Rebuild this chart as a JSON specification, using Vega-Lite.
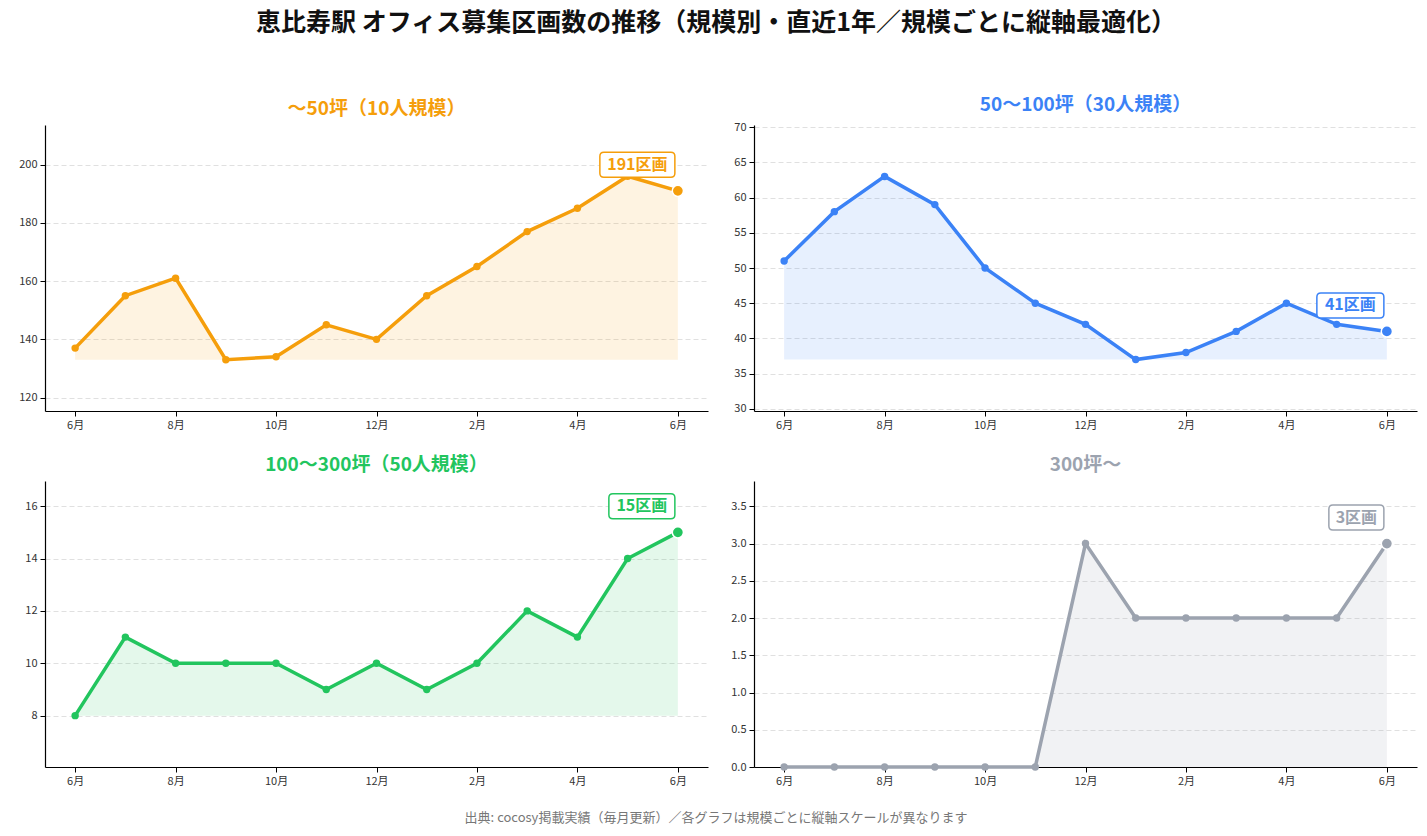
{
  "$schema": "https://vega.github.io/schema/vega-lite/v6.json",
  "background": "white",
  "padding": {"left": 15, "top": 11, "right": 10, "bottom": 5},
  "title": {"text": "恵比寿駅 オフィス募集区画数の推移（規模別・直近1年／規模ごとに縦軸最適化）", "fontSize": 25, "color": "#111111", "anchor": "middle", "offset": 60},
  "spacing": 21,
  "config": {
    "view": {"stroke": null},
    "font": "Noto Sans CJK JP",
    "title": {"font": "Noto Sans CJK JP", "fontSize": 19, "fontWeight": "bold", "offset": 6, "anchor": "middle"},
    "axis": {"labelFont": "Noto Sans CJK JP", "labelFontSize": 11, "labelColor": "#333333", "domainColor": "#000000", "domainWidth": 1.2, "tickColor": "#000000", "tickWidth": 1, "tickSize": 5, "labelPadding": 3, "title": null, "gridColor": "#dddddd", "gridDash": [5, 3], "gridWidth": 0.9},
    "axisY": {"minExtent": 30, "maxExtent": 30},
    "axisX": {"minExtent": 24, "maxExtent": 24}
  },
  "vconcat": [
    {
      "spacing": 16,
      "hconcat": [
        {
          "width": 663, "height": 286,
          "title": {"text": "～50坪（10人規模）", "color": "#F59E0B"},
          "data": {"values": [
            {"i": 0, "month": "6月", "v": 137}, {"i": 1, "month": "7月", "v": 155}, {"i": 2, "month": "8月", "v": 161},
            {"i": 3, "month": "9月", "v": 133}, {"i": 4, "month": "10月", "v": 134}, {"i": 5, "month": "11月", "v": 145},
            {"i": 6, "month": "12月", "v": 140}, {"i": 7, "month": "1月", "v": 155}, {"i": 8, "month": "2月", "v": 165},
            {"i": 9, "month": "3月", "v": 177}, {"i": 10, "month": "4月", "v": 185}, {"i": 11, "month": "5月", "v": 196},
            {"i": 12, "month": "6月", "v": 191}
          ]},
          "encoding": {
            "x": {"field": "i", "type": "quantitative", "scale": {"domain": [-0.6, 12.6], "nice": false, "zero": false},
                  "axis": {"values": [0, 2, 4, 6, 8, 10, 12], "grid": false, "labelExpr": "['6月','7月','8月','9月','10月','11月','12月','1月','2月','3月','4月','5月','6月'][datum.value]"}},
            "y": {"field": "v", "type": "quantitative", "scale": {"domain": [115.4, 213.6], "nice": false, "zero": false},
                  "axis": {"values": [120, 140, 160, 180, 200], "grid": true}}
          },
          "layer": [
            {"mark": {"type": "area", "color": "#F59E0B", "opacity": 0.12}, "encoding": {"y2": {"datum": 133}}},
            {"mark": {"type": "line", "color": "#F59E0B", "strokeWidth": 3.5}},
            {"mark": {"type": "circle", "color": "#F59E0B", "size": 55, "opacity": 1}},
            {"transform": [{"filter": "datum.i == 12"}], "mark": {"type": "circle", "color": "#F59E0B", "size": 125, "opacity": 1, "stroke": "white", "strokeWidth": 1.5}},
            {"transform": [{"filter": "datum.i == 12"}], "mark": {"type": "point", "shape": "M-0.67,-0.25L0.67,-0.25Q0.75,-0.25,0.75,-0.17L0.75,0.17Q0.75,0.25,0.67,0.25L-0.67,0.25Q-0.75,0.25,-0.75,0.17L-0.75,-0.17Q-0.75,-0.25,-0.67,-0.25Z", "size": 10000, "filled": true, "fill": "white", "stroke": "#F59E0B", "strokeWidth": 1.5, "opacity": 1, "xOffset": -40.5, "yOffset": -26}},
            {"transform": [{"filter": "datum.i == 12"}], "mark": {"type": "text", "text": {"expr": "datum.v + '区画'"}, "color": "#F59E0B", "font": "Noto Sans CJK JP", "fontWeight": "bold", "fontSize": 16, "align": "center", "baseline": "middle", "dx": -40.5, "dy": -26}}
          ]
        },
        {
          "width": 663, "height": 286,
          "title": {"text": "50～100坪（30人規模）", "color": "#3B82F6"},
          "data": {"values": [
            {"i": 0, "month": "6月", "v": 51}, {"i": 1, "month": "7月", "v": 58}, {"i": 2, "month": "8月", "v": 63},
            {"i": 3, "month": "9月", "v": 59}, {"i": 4, "month": "10月", "v": 50}, {"i": 5, "month": "11月", "v": 45},
            {"i": 6, "month": "12月", "v": 42}, {"i": 7, "month": "1月", "v": 37}, {"i": 8, "month": "2月", "v": 38},
            {"i": 9, "month": "3月", "v": 41}, {"i": 10, "month": "4月", "v": 45}, {"i": 11, "month": "5月", "v": 42},
            {"i": 12, "month": "6月", "v": 41}
          ]},
          "encoding": {
            "x": {"field": "i", "type": "quantitative", "scale": {"domain": [-0.6, 12.6], "nice": false, "zero": false},
                  "axis": {"values": [0, 2, 4, 6, 8, 10, 12], "grid": false, "labelExpr": "['6月','7月','8月','9月','10月','11月','12月','1月','2月','3月','4月','5月','6月'][datum.value]"}},
            "y": {"field": "v", "type": "quantitative", "scale": {"domain": [29.7, 70.3], "nice": false, "zero": false},
                  "axis": {"values": [30, 35, 40, 45, 50, 55, 60, 65, 70], "grid": true}}
          },
          "layer": [
            {"mark": {"type": "area", "color": "#3B82F6", "opacity": 0.12}, "encoding": {"y2": {"datum": 37}}},
            {"mark": {"type": "line", "color": "#3B82F6", "strokeWidth": 3.5}},
            {"mark": {"type": "circle", "color": "#3B82F6", "size": 55, "opacity": 1}},
            {"transform": [{"filter": "datum.i == 12"}], "mark": {"type": "circle", "color": "#3B82F6", "size": 125, "opacity": 1, "stroke": "white", "strokeWidth": 1.5}},
            {"transform": [{"filter": "datum.i == 12"}], "mark": {"type": "point", "shape": "M-0.59,-0.25L0.59,-0.25Q0.67,-0.25,0.67,-0.17L0.67,0.17Q0.67,0.25,0.59,0.25L-0.59,0.25Q-0.67,0.25,-0.67,0.17L-0.67,-0.17Q-0.67,-0.25,-0.59,-0.25Z", "size": 10000, "filled": true, "fill": "white", "stroke": "#3B82F6", "strokeWidth": 1.5, "opacity": 1, "xOffset": -36.5, "yOffset": -26}},
            {"transform": [{"filter": "datum.i == 12"}], "mark": {"type": "text", "text": {"expr": "datum.v + '区画'"}, "color": "#3B82F6", "font": "Noto Sans CJK JP", "fontWeight": "bold", "fontSize": 16, "align": "center", "baseline": "middle", "dx": -36.5, "dy": -26}}
          ]
        }
      ]
    },
    {
      "spacing": 16,
      "title": {"text": "出典: cocosy掲載実績（毎月更新）／各グラフは規模ごとに縦軸スケールが異なります", "orient": "bottom", "fontSize": 13, "fontWeight": "normal", "color": "#777777", "offset": 21, "anchor": "middle"},
      "hconcat": [
        {
          "width": 663, "height": 286,
          "title": {"text": "100～300坪（50人規模）", "color": "#22C55E"},
          "data": {"values": [
            {"i": 0, "month": "6月", "v": 8}, {"i": 1, "month": "7月", "v": 11}, {"i": 2, "month": "8月", "v": 10},
            {"i": 3, "month": "9月", "v": 10}, {"i": 4, "month": "10月", "v": 10}, {"i": 5, "month": "11月", "v": 9},
            {"i": 6, "month": "12月", "v": 10}, {"i": 7, "month": "1月", "v": 9}, {"i": 8, "month": "2月", "v": 10},
            {"i": 9, "month": "3月", "v": 12}, {"i": 10, "month": "4月", "v": 11}, {"i": 11, "month": "5月", "v": 14},
            {"i": 12, "month": "6月", "v": 15}
          ]},
          "encoding": {
            "x": {"field": "i", "type": "quantitative", "scale": {"domain": [-0.6, 12.6], "nice": false, "zero": false},
                  "axis": {"values": [0, 2, 4, 6, 8, 10, 12], "grid": false, "labelExpr": "['6月','7月','8月','9月','10月','11月','12月','1月','2月','3月','4月','5月','6月'][datum.value]"}},
            "y": {"field": "v", "type": "quantitative", "scale": {"domain": [6.04, 16.96], "nice": false, "zero": false},
                  "axis": {"values": [8, 10, 12, 14, 16], "grid": true}}
          },
          "layer": [
            {"mark": {"type": "area", "color": "#22C55E", "opacity": 0.12}, "encoding": {"y2": {"datum": 8}}},
            {"mark": {"type": "line", "color": "#22C55E", "strokeWidth": 3.5}},
            {"mark": {"type": "circle", "color": "#22C55E", "size": 55, "opacity": 1}},
            {"transform": [{"filter": "datum.i == 12"}], "mark": {"type": "circle", "color": "#22C55E", "size": 125, "opacity": 1, "stroke": "white", "strokeWidth": 1.5}},
            {"transform": [{"filter": "datum.i == 12"}], "mark": {"type": "point", "shape": "M-0.58,-0.25L0.58,-0.25Q0.66,-0.25,0.66,-0.17L0.66,0.17Q0.66,0.25,0.58,0.25L-0.58,0.25Q-0.66,0.25,-0.66,0.17L-0.66,-0.17Q-0.66,-0.25,-0.58,-0.25Z", "size": 10000, "filled": true, "fill": "white", "stroke": "#22C55E", "strokeWidth": 1.5, "opacity": 1, "xOffset": -36, "yOffset": -26}},
            {"transform": [{"filter": "datum.i == 12"}], "mark": {"type": "text", "text": {"expr": "datum.v + '区画'"}, "color": "#22C55E", "font": "Noto Sans CJK JP", "fontWeight": "bold", "fontSize": 16, "align": "center", "baseline": "middle", "dx": -36, "dy": -26}}
          ]
        },
        {
          "width": 663, "height": 286,
          "title": {"text": "300坪～", "color": "#9CA3AF"},
          "data": {"values": [
            {"i": 0, "month": "6月", "v": 0}, {"i": 1, "month": "7月", "v": 0}, {"i": 2, "month": "8月", "v": 0},
            {"i": 3, "month": "9月", "v": 0}, {"i": 4, "month": "10月", "v": 0}, {"i": 5, "month": "11月", "v": 0},
            {"i": 6, "month": "12月", "v": 3}, {"i": 7, "month": "1月", "v": 2}, {"i": 8, "month": "2月", "v": 2},
            {"i": 9, "month": "3月", "v": 2}, {"i": 10, "month": "4月", "v": 2}, {"i": 11, "month": "5月", "v": 2},
            {"i": 12, "month": "6月", "v": 3}
          ]},
          "encoding": {
            "x": {"field": "i", "type": "quantitative", "scale": {"domain": [-0.6, 12.6], "nice": false, "zero": false},
                  "axis": {"values": [0, 2, 4, 6, 8, 10, 12], "grid": false, "labelExpr": "['6月','7月','8月','9月','10月','11月','12月','1月','2月','3月','4月','5月','6月'][datum.value]"}},
            "y": {"field": "v", "type": "quantitative", "scale": {"domain": [0, 3.84], "nice": false, "zero": false},
                  "axis": {"values": [0, 0.5, 1, 1.5, 2, 2.5, 3, 3.5], "format": ".1f", "grid": true}}
          },
          "layer": [
            {"mark": {"type": "area", "color": "#9CA3AF", "opacity": 0.14}, "encoding": {"y2": {"datum": 0}}},
            {"mark": {"type": "line", "color": "#9CA3AF", "strokeWidth": 3.5}},
            {"mark": {"type": "circle", "color": "#9CA3AF", "size": 55, "opacity": 1}},
            {"transform": [{"filter": "datum.i == 12"}], "mark": {"type": "circle", "color": "#9CA3AF", "size": 125, "opacity": 1, "stroke": "white", "strokeWidth": 1.5}},
            {"transform": [{"filter": "datum.i == 12"}], "mark": {"type": "point", "shape": "M-0.47,-0.25L0.47,-0.25Q0.55,-0.25,0.55,-0.17L0.55,0.17Q0.55,0.25,0.47,0.25L-0.47,0.25Q-0.55,0.25,-0.55,0.17L-0.55,-0.17Q-0.55,-0.25,-0.47,-0.25Z", "size": 10000, "filled": true, "fill": "white", "stroke": "#9CA3AF", "strokeWidth": 1.5, "opacity": 1, "xOffset": -30.5, "yOffset": -26}},
            {"transform": [{"filter": "datum.i == 12"}], "mark": {"type": "text", "text": {"expr": "datum.v + '区画'"}, "color": "#9CA3AF", "font": "Noto Sans CJK JP", "fontWeight": "bold", "fontSize": 16, "align": "center", "baseline": "middle", "dx": -30.5, "dy": -26}}
          ]
        }
      ]
    }
  ]
}
